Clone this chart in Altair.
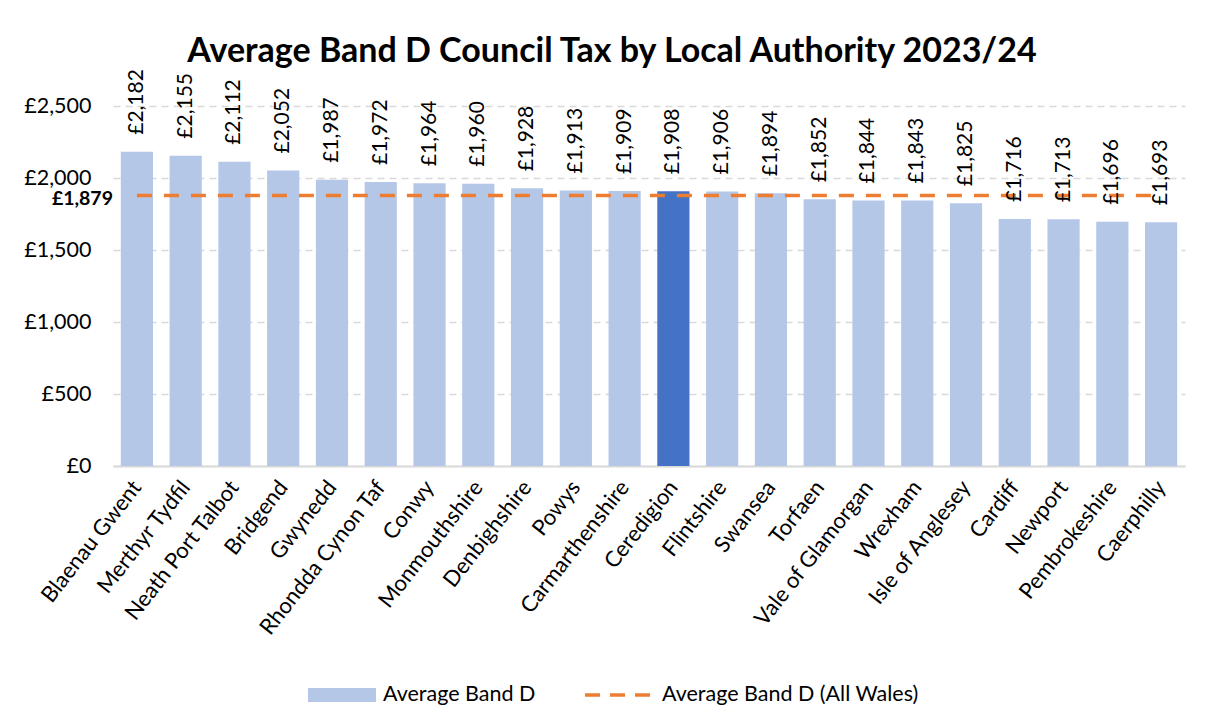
import altair as alt
import pandas as pd

authorities = ["Blaenau Gwent", "Merthyr Tydfil", "Neath Port Talbot", "Bridgend", "Gwynedd",
               "Rhondda Cynon Taf", "Conwy", "Monmouthshire", "Denbighshire", "Powys",
               "Carmarthenshire", "Ceredigion", "Flintshire", "Swansea", "Torfaen",
               "Vale of Glamorgan", "Wrexham", "Isle of Anglesey", "Cardiff", "Newport",
               "Pembrokeshire", "Caerphilly"]
band_d = [2182, 2155, 2112, 2052, 1987, 1972, 1964, 1960, 1928, 1913, 1909, 1908, 1906,
          1894, 1852, 1844, 1843, 1825, 1716, 1713, 1696, 1693]
wales_avg = 1879
highlight = "Ceredigion"
title_text = "Average Band D Council Tax by Local Authority 2023/24"
legend_labels = ["Average Band D", "Average Band D (All Wales)"]
y_ticks = [0, 500, 1000, 1500, 2000, 2500]

FONT = "Lato"
W, H = 1072, 360

df = pd.DataFrame({
    "Authority": authorities,
    "Value": band_d,
    "Label": ["£{:,}".format(v) for v in band_d],
    "Wales": [wales_avg] * len(authorities),
})

x = alt.X("Authority:N", sort=authorities, title=None,
          scale=alt.Scale(paddingInner=0.34, paddingOuter=0.16),
          axis=alt.Axis(labelAngle=-52, labelAlign="right", labelBaseline="middle",
                        labelFontSize=22, labelFont=FONT, labelColor="#000000",
                        labelPadding=17, ticks=False, domainColor="#D9D9D9",
                        domainWidth=2, grid=False, labelLimit=300))
y = alt.Y("Value:Q", title=None,
          scale=alt.Scale(domain=[0, 2500], nice=False),
          axis=alt.Axis(values=y_ticks,
                        labelExpr="'£' + format(datum.value, ',')",
                        labelFontSize=21.5, labelFont=FONT, labelColor="#000000",
                        labelPadding=22, ticks=False, domain=False,
                        grid=True, gridColor="#D9D9D9", gridDash=[7, 5], gridWidth=1.5))

base = alt.Chart(df)

bars = base.mark_bar().encode(
    x=x, y=y,
    color=alt.condition(alt.datum.Authority == highlight,
                        alt.value("#4472C4"), alt.value("#B4C7E7")),
)

labels = base.mark_text(angle=270, align="left", baseline="middle", dx=17,
                        fontSize=21, font=FONT, color="#000000").encode(
    x=alt.X("Authority:N", sort=authorities), y="Value:Q", text="Label:N")

line = base.mark_line(color="#ED7D31", strokeWidth=3.5, strokeDash=[15, 12]).encode(
    x=alt.X("Authority:N", sort=authorities), y="Wales:Q")

avg_label = alt.Chart(pd.DataFrame({"v": [wales_avg], "t": ["£{:,}".format(wales_avg)]})).mark_text(
    align="right", baseline="middle", fontSize=19.5, fontWeight="bold", font=FONT,
    color="#000000", dy=4).encode(x=alt.value(0), y="v:Q", text="t:N")

title = alt.Chart(pd.DataFrame({"t": [title_text]})).mark_text(
    fontSize=34, fontWeight="bold", font=FONT, color="#000000", baseline="alphabetic").encode(
    x=alt.value(499), y=alt.value(-44), text="t:N")

leg_df = pd.DataFrame({"t": legend_labels})
leg_rect = alt.Chart(leg_df.iloc[:1]).mark_rect(color="#B4C7E7").encode(
    x=alt.value(195), x2=alt.value(263), y=alt.value(582), y2=alt.value(596))
leg_line = alt.Chart(leg_df.iloc[:1]).mark_rule(color="#ED7D31", strokeWidth=3.5,
                                               strokeDash=[15, 10]).encode(
    x=alt.value(472), x2=alt.value(542), y=alt.value(589))
leg_t1 = alt.Chart(leg_df.iloc[:1]).mark_text(align="left", baseline="middle", fontSize=21.5,
                                             font=FONT, color="#000000").encode(
    x=alt.value(270), y=alt.value(589), text="t:N")
leg_t2 = alt.Chart(leg_df.iloc[1:]).mark_text(align="left", baseline="middle", fontSize=21.5,
                                             font=FONT, color="#000000").encode(
    x=alt.value(549), y=alt.value(589), text="t:N")

chart = alt.layer(bars, line, labels, avg_label, title, leg_rect, leg_line, leg_t1, leg_t2).properties(
    width=W, height=H,
    autosize=alt.AutoSizeParams(type="none"),
    padding={"left": 105, "top": 98, "right": 17, "bottom": 253},
    background="#FFFFFF",
).configure_view(stroke=None)

chart.save("out.html", embed_options={"renderer": "svg", "actions": False})
